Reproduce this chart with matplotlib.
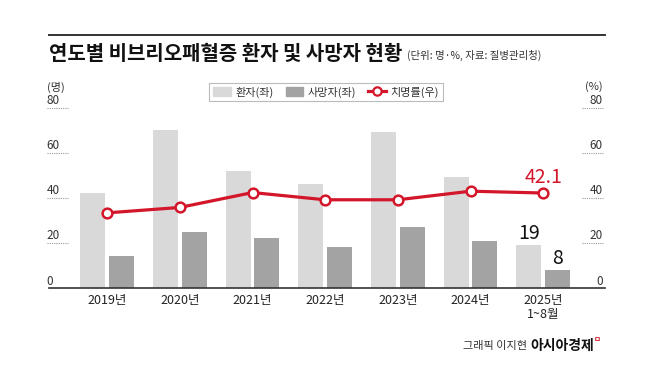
import numpy as np
import matplotlib.pyplot as plt
from matplotlib.patches import Patch
from matplotlib.lines import Line2D

plt.rcParams['font.family'] = ['Noto Sans CJK KR', 'DejaVu Sans']

# data (명, %)
years = ['2019년', '2020년', '2021년', '2022년', '2023년', '2024년', '2025년\n1~8월']
patients = [42, 70, 52, 46, 69, 49, 19]
deaths = [14, 25, 22, 18, 27, 21, 8]
fatality = [33.3, 35.7, 42.3, 39.1, 39.1, 42.9, 42.1]
yticks = [0, 20, 40, 60, 80]

c_pat = '#d9d9d9'
c_death = '#a3a3a3'
c_red = '#d4162b'
W, H = 650, 391

fig = plt.figure(figsize=(6.5, 3.91), dpi=100)
ax = fig.add_axes([49 / W, 1 - 288 / H, 556 / W, (288 - 107.5) / H])

x = np.arange(len(years))
bw = 0.344
ax.bar(x - 0.198, patients, bw, color=c_pat, zorder=2)
ax.bar(x + 0.198, deaths, bw, color=c_death, zorder=2)

ax.set_xlim(-0.80, 6.85)
ax.set_ylim(0, 80)

# right axis: fatality rate
ax2 = ax.twinx()
ax2.set_ylim(0, 80)
ax2.plot(x, fatality, color=c_red, lw=2.3, marker='o', ms=7,
         mfc='white', mec=c_red, mew=1.8, zorder=3, clip_on=False)

for a in (ax, ax2):
    for s in a.spines.values():
        s.set_visible(False)
    a.set_yticks([])
ax.spines['bottom'].set_visible(True)
ax.spines['bottom'].set_color('#333333')
ax.spines['bottom'].set_linewidth(1.2)

ax.set_xticks(x)
ax.set_xticklabels(years, fontsize=9, color='#222222', linespacing=1.1)
ax.tick_params(axis='x', length=0, pad=4.5)

# manual y tick labels with short dotted lines
tr = ax.get_yaxis_transform()
for v in yticks:
    ax.text(-0.004, v + 0.2, str(v), transform=tr, ha='left', va='bottom',
            fontsize=8.5, color='#333333', clip_on=False)
    ax.text(0.996, v + 0.2, str(v), transform=tr, ha='right', va='bottom',
            fontsize=8.5, color='#333333', clip_on=False)
    if v > 0:
        ax.plot([-0.004, 0.034], [v, v], transform=tr, color='#999999',
                lw=0.8, ls=(0, (1, 1)), clip_on=False)
        ax.plot([0.959, 0.996], [v, v], transform=tr, color='#999999',
                lw=0.8, ls=(0, (1, 1)), clip_on=False)
fig.text(47 / W, 1 - 87 / H, '(명)', fontsize=8, color='#333333', va='center', ha='left')
fig.text(603 / W, 1 - 87 / H, '(%)', fontsize=8, color='#333333', va='center', ha='right')

# value labels for the latest period
ax2.annotate(f'{fatality[-1]}', (x[-1], fatality[-1]), xytext=(0, 11),
             textcoords='offset points', ha='center', va='center',
             fontsize=14, color=c_red)
ax.annotate(str(patients[-1]), (x[-1] - 0.198, patients[-1]), xytext=(0, 8.5),
            textcoords='offset points', ha='center', va='center',
            fontsize=14, color='#111111')
ax.annotate(str(deaths[-1]), (x[-1] + 0.198, deaths[-1]), xytext=(0, 8.5),
            textcoords='offset points', ha='center', va='center',
            fontsize=14, color='#111111')

# title block
fig.add_artist(Line2D([49 / W, 605 / W], [1 - 35 / H, 1 - 35 / H],
                      transform=fig.transFigure, color='#333333', lw=1.4))
title = fig.text(49 / W, 1 - 54 / H, '연도별 비브리오패혈증 환자 및 사망자 현황',
                 fontsize=14.4, fontweight='bold', color='#111111', va='center')
fig.canvas.draw()
fig.text(0, 0, '(단위: 명·%, 자료: 질병관리청)', fontsize=7.5, color='#333333',
         va='center', ha='left',
         transform=fig.transFigure).set_position(
    (title.get_window_extent().x1 / fig.bbox.width + 5 / W, 1 - 55 / H))

# legend
handles = [Patch(color=c_pat), Patch(color=c_death),
           Line2D([], [], color=c_red, lw=2.3, marker='o', ms=6,
                  mfc='white', mec=c_red, mew=1.6)]
leg = fig.legend(handles, ['환자(좌)', '사망자(좌)', '치명률(우)'], ncol=3,
                 loc='center', bbox_to_anchor=(326 / W, 1 - 92 / H),
                 fontsize=8, frameon=True, fancybox=False, handlelength=1.6,
                 handleheight=0.8, columnspacing=1.1, handletextpad=0.4,
                 borderpad=0.35, numpoints=1)
leg.get_frame().set_edgecolor('#aaaaaa')
leg.get_frame().set_linewidth(0.8)
for t in leg.get_texts():
    t.set_color('#333333')

# credit
fig.text(527 / W, 1 - 346 / H, '그래픽 이지현', fontsize=8, color='#333333',
         ha='right', va='center')
fig.text(530 / W, 1 - 346 / H, '아시아경제', fontsize=10, fontweight='bold',
         color='#111111', ha='left', va='center')
fig.text(597 / W, 1 - 340 / H, 'ㅁ', fontsize=5.5, fontweight='bold',
         color=c_red, ha='center', va='center')

fig.savefig('out.png', dpi=100)
